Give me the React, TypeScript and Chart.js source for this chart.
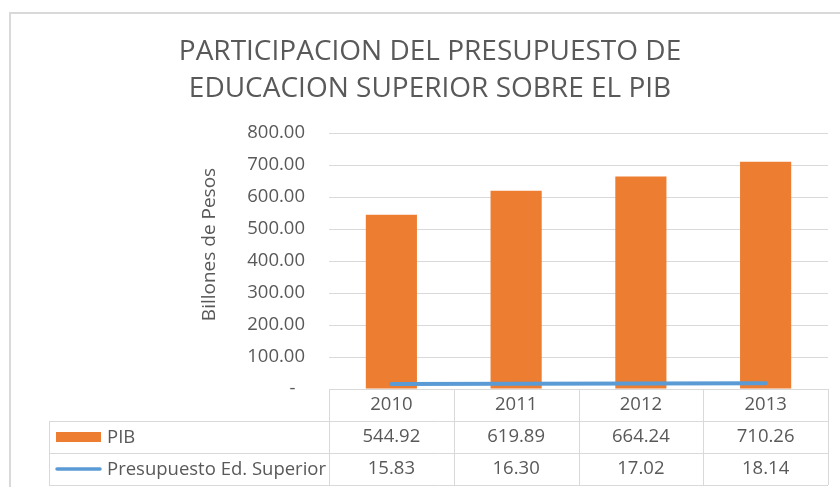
import React, { useEffect, useRef } from 'react';
import { Chart, registerables } from 'chart.js';

Chart.register(...registerables);

const TITLE_LINES = ['PARTICIPACION DEL PRESUPUESTO DE', 'EDUCACION SUPERIOR SOBRE EL PIB'];
const YEARS = ['2010', '2011', '2012', '2013'];
const PIB = [544.92, 619.89, 664.24, 710.26];
const PRESUPUESTO = [15.83, 16.3, 17.02, 18.14];
const SERIES_NAMES = ['PIB', 'Presupuesto Ed. Superior'];
const Y_AXIS_TITLE = 'Billones de Pesos';
const Y_MIN = 0;
const Y_MAX = 800;
const Y_STEP = 100;

const FONT = "'Open Sans', sans-serif";
const TEXT = '#595959';
const GRID = '#d9d9d9';
const ORANGE = '#ED7D31';
const BLUE = '#5B9BD5';

const tablePlugin = {
  id: 'excelTable',
  beforeDraw(chart: any) {
    const { ctx, width, height } = chart;
    ctx.save();
    ctx.fillStyle = '#ffffff';
    ctx.fillRect(0, 0, width, height);
    ctx.strokeStyle = GRID;
    ctx.lineWidth = 2;
    ctx.beginPath();
    ctx.moveTo(10, height);
    ctx.lineTo(10, 13);
    ctx.lineTo(width, 13);
    ctx.stroke();
    ctx.restore();
  },
  afterDraw(chart: any) {
    const { ctx, chartArea } = chart;
    const xs = chart.scales.x;
    const n = YEARS.length;
    const band = (chartArea.right - chartArea.left) / n;
    const top = Math.round(chartArea.bottom);
    const rowH = 32;
    const tableLeft = 49;
    const right = Math.round(chartArea.right);
    ctx.save();
    // axis title
    ctx.fillStyle = TEXT;
    ctx.font = `19px ${FONT}`;
    ctx.textAlign = 'center';
    ctx.textBaseline = 'middle';
    ctx.save();
    ctx.translate(210, 244.5);
    ctx.rotate(-Math.PI / 2);
    ctx.fillText(Y_AXIS_TITLE, 0, 0);
    ctx.restore();

    // grid lines of table
    ctx.strokeStyle = GRID;
    ctx.lineWidth = 1;
    ctx.beginPath();
    ctx.moveTo(Math.round(chartArea.left), top + 0.5);
    ctx.lineTo(right, top + 0.5);
    for (let r = 1; r <= 3; r++) {
      ctx.moveTo(tableLeft, top + r * rowH + 0.5);
      ctx.lineTo(right, top + r * rowH + 0.5);
    }
    ctx.moveTo(tableLeft + 0.5, top + rowH);
    ctx.lineTo(tableLeft + 0.5, top + 3 * rowH);
    for (let i = 0; i <= n; i++) {
      const bx = Math.round(chartArea.left + i * band) + 0.5;
      ctx.moveTo(bx, top);
      ctx.lineTo(bx, top + 3 * rowH);
    }
    ctx.stroke();

    // text
    ctx.fillStyle = TEXT;
    ctx.font = `18.5px ${FONT}`;
    ctx.textAlign = 'center';
    ctx.textBaseline = 'middle';
    const series = [PIB, PRESUPUESTO];
    for (let i = 0; i < n; i++) {
      const cx = xs.getPixelForValue(i);
      ctx.fillText(YEARS[i], cx, top + rowH / 2);
      series.forEach((s, k) => {
        ctx.fillText(s[i].toFixed(2), cx, top + rowH * (k + 1) + rowH / 2);
      });
    }
    ctx.textAlign = 'left';
    SERIES_NAMES.forEach((name, k) => {
      ctx.fillText(name, 107, top + rowH * (k + 1) + rowH / 2 + 0.5);
    });

    // legend keys
    const y1 = top + rowH * 1 + rowH / 2;
    ctx.fillStyle = ORANGE;
    ctx.fillRect(56, y1 - 5, 45, 10);
    const y2 = top + rowH * 2 + rowH / 2;
    ctx.strokeStyle = BLUE;
    ctx.lineWidth = 3.5;
    ctx.lineCap = 'round';
    ctx.beginPath();
    ctx.moveTo(57, y2);
    ctx.lineTo(100, y2);
    ctx.stroke();
    ctx.restore();
  },
};

export default function App() {
  const ref = useRef<HTMLCanvasElement>(null);
  useEffect(() => {
    if (!ref.current) return;
    const chart = new Chart(ref.current, {
      type: 'bar',
      data: {
        labels: YEARS,
        datasets: [
          {
            type: 'line',
            label: SERIES_NAMES[1],
            data: PRESUPUESTO,
            borderColor: BLUE,
            backgroundColor: BLUE,
            borderWidth: 4,
            pointRadius: 0,
            borderCapStyle: 'round',
            tension: 0,
            order: 0,
          } as any,
          {
            type: 'bar',
            label: SERIES_NAMES[0],
            data: PIB,
            backgroundColor: ORANGE,
            borderWidth: 0,
            categoryPercentage: 1,
            barPercentage: 0.41,
            order: 1,
          },
        ],
      },
      options: {
        responsive: false,
        animation: false,
        devicePixelRatio: 1,
        layout: { padding: { left: 32, right: 12, top: 0, bottom: 0 } },
        plugins: {
          legend: { display: false },
          tooltip: { enabled: false },
          title: {
            display: true,
            text: TITLE_LINES,
            color: TEXT,
            font: { family: FONT, size: 28, weight: 'normal', lineHeight: '37px' as any },
            padding: { top: 34, bottom: 25 },
          },
        },
        scales: {
          x: {
            type: 'category',
            offset: true,
            ticks: { display: false },
            grid: { display: false },
            border: { display: false },
            afterFit: (s: any) => {
              s.height = 98;
            },
          },
          y: {
            type: 'linear',
            min: Y_MIN,
            max: Y_MAX,
            ticks: {
              stepSize: Y_STEP,
              padding: 24,
              color: TEXT,
              font: { family: FONT, size: 18.5 },
              callback: (v: any) => (Number(v) === 0 ? '-  ' : Number(v).toFixed(2)),
            },
            grid: { color: GRID, drawTicks: false, lineWidth: 1 },
            border: { display: false },
            afterFit: (s: any) => {
              s.width = 297;
            },
          },
        },
      },
      plugins: [tablePlugin],
    });
    return () => chart.destroy();
  }, []);
  return (
    <div style={{ position: 'fixed', left: 0, top: 0, width: 840, height: 487 }}>
      <canvas ref={ref} width={840} height={487} style={{ display: 'block' }} />
    </div>
  );
}
